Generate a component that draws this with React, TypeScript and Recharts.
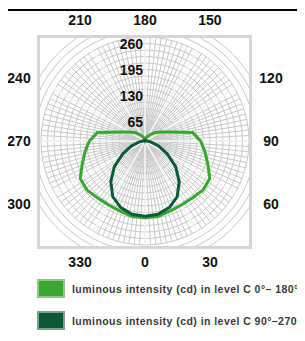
import React from 'react';
import { RadarChart, Radar, PolarGrid, PolarAngleAxis, PolarRadiusAxis } from 'recharts';

const angles = [0, 10, 20, 30, 40, 50, 60, 70, 80, 90, 100, 110, 120, 130, 140, 150, 160, 170, 180, 190, 200, 210, 220, 230, 240, 250, 260, 270, 280, 290, 300, 310, 320, 330, 340, 350];
const levelC0_180 = [192, 191, 186, 184, 185, 190, 187, 167, 152, 139, 121, 66, 45, 32, 22, 14, 8, 4, 2, 4, 8, 14, 22, 32, 45, 66, 121, 139, 152, 167, 187, 190, 185, 184, 186, 191];
const levelC90_270 = [188, 186, 177, 161, 133, 100, 64, 36, 16, 5, 3, 2, 2, 2, 2, 2, 2, 2, 2, 2, 2, 2, 2, 2, 2, 2, 3, 5, 16, 36, 64, 100, 133, 161, 177, 186];
const angleTicks = [0, 30, 60, 90, 120, 150, 180, 210, 240, 270, 300, 330];
const radiusTicks = [0, 65, 130, 195, 260];
const legendLabels = ['luminous intensity (cd) in level C 0°– 180°', 'luminous intensity (cd) in level C 90°–270°'];

const LIGHT = '#36a82d';
const DARK = '#0b5a39';

const data = angles.map((a, i) => ({ angle: a, c0: levelC0_180[i], c90: levelC90_270[i] }));

const CX = 145;
const CY = 141;
const R = 104;

const tickFont = { fontFamily: '"Liberation Sans", Arial, sans-serif', fontWeight: 700, fontSize: 14, fill: '#111' };

function AngleTick(props: any) {
  const { x, y, payload } = props;
  const v = Number(payload.value);
  const dx = x - CX;
  const dy = y - CY;
  let X: number;
  let Y: number;
  if (Math.abs(dy) >= Math.abs(dx)) {
    Y = CY + Math.sign(dy) * 121;
    X = CX + (dx / Math.abs(dy)) * 121 * 0.93;
  } else {
    X = CX + Math.sign(dx) * 126;
    Y = CY + (dy / Math.abs(dx)) * 126 * 0.86;
  }
  return (
    <text x={X} y={Y} textAnchor="middle" dominantBaseline="central" {...tickFont}>
      {v}
    </text>
  );
}

function RadiusTick(props: any) {
  const { x, y, payload } = props;
  if (Number(payload.value) === 0) return null;
  return (
    <text x={x - 2} y={y + 7} textAnchor="end" dominantBaseline="central" {...tickFont}>
      {payload.value}
    </text>
  );
}

const gridAngles = Array.from({ length: 120 }, (_, i) => i * 3);
const gridRadii = Array.from({ length: 19 }, (_, i) => (i + 1) * 6.5);
const mainAngles = Array.from({ length: 12 }, (_, i) => i * 30);

export default function App() {
  return (
    <div style={{ position: 'relative', margin: -8, width: 305, height: 341, overflow: 'hidden', background: '#fff' }}>
      <div style={{ position: 'absolute', left: 6, top: 9, width: 299, height: 2, background: '#000' }} />
      <div style={{ position: 'absolute', left: 6, top: 9, width: 2, height: 332, background: '#000' }} />
      <div style={{ position: 'absolute', left: 37, top: 35, width: 215, height: 214, boxSizing: 'border-box', border: '3px solid #d6d6d6' }} />
      <div style={{ position: 'absolute', left: 40, top: 38, width: 209, height: 208, overflow: 'hidden' }}>
        <div style={{ position: 'absolute', left: -40, top: -38 }}>
          <RadarChart width={305} height={341} data={data} cx={CX} cy={CY} outerRadius={R} startAngle={-90} endAngle={270} margin={{ top: 0, right: 0, bottom: 0, left: 0 }}>
            <PolarGrid gridType="circle" polarAngles={gridAngles} polarRadius={gridRadii} stroke="#c9c9c9" strokeWidth={1} />
            <PolarGrid gridType="circle" polarAngles={mainAngles} polarRadius={[]} stroke="#f6f6f6" strokeWidth={1.5} />
            <PolarAngleAxis dataKey="angle" type="number" domain={[0, 360]} ticks={angleTicks as any} axisLine={false} tickLine={false} tick={false} />
            <PolarRadiusAxis angle={90} type="number" domain={[0, 260]} axisLine={false} tickLine={false} tick={false} />
          </RadarChart>
        </div>
      </div>
      <div style={{ position: 'absolute', left: 0, top: 0 }}>
        <RadarChart width={305} height={341} data={data} cx={CX} cy={CY} outerRadius={R} startAngle={-90} endAngle={270} margin={{ top: 0, right: 0, bottom: 0, left: 0 }}>
          <PolarAngleAxis dataKey="angle" type="number" domain={[0, 360]} ticks={angleTicks as any} axisLine={false} tickLine={false} tick={<AngleTick />} />
          <PolarRadiusAxis angle={90} type="number" domain={[0, 260]} ticks={radiusTicks as any} tickCount={5} axisLine={false} tickLine={false} tick={<RadiusTick />} />
          <Radar dataKey="c0" stroke={LIGHT} strokeWidth={3} fill="none" fillOpacity={0} dot={false} isAnimationActive={false} />
          <Radar dataKey="c90" stroke={DARK} strokeWidth={3} fill="none" fillOpacity={0} dot={false} isAnimationActive={false} />
        </RadarChart>
      </div>
      {legendLabels.map((label, i) => (
        <div key={label} style={{ position: 'absolute', left: 37, top: 279 + i * 32, height: 19, display: 'flex', alignItems: 'center', whiteSpace: 'nowrap' }}>
          <div style={{ width: 28, height: 19, boxSizing: 'border-box', background: i === 0 ? '#3aa830' : '#0a5a3a', border: `2px solid ${i === 0 ? '#93c48e' : '#7ca08c'}` }} />
          <span style={{ marginLeft: 7, fontFamily: '"Liberation Sans", Arial, sans-serif', fontWeight: 700, fontSize: 10.5, letterSpacing: 0.45, color: '#3a3a3a' }}>{label}</span>
        </div>
      ))}
    </div>
  );
}
